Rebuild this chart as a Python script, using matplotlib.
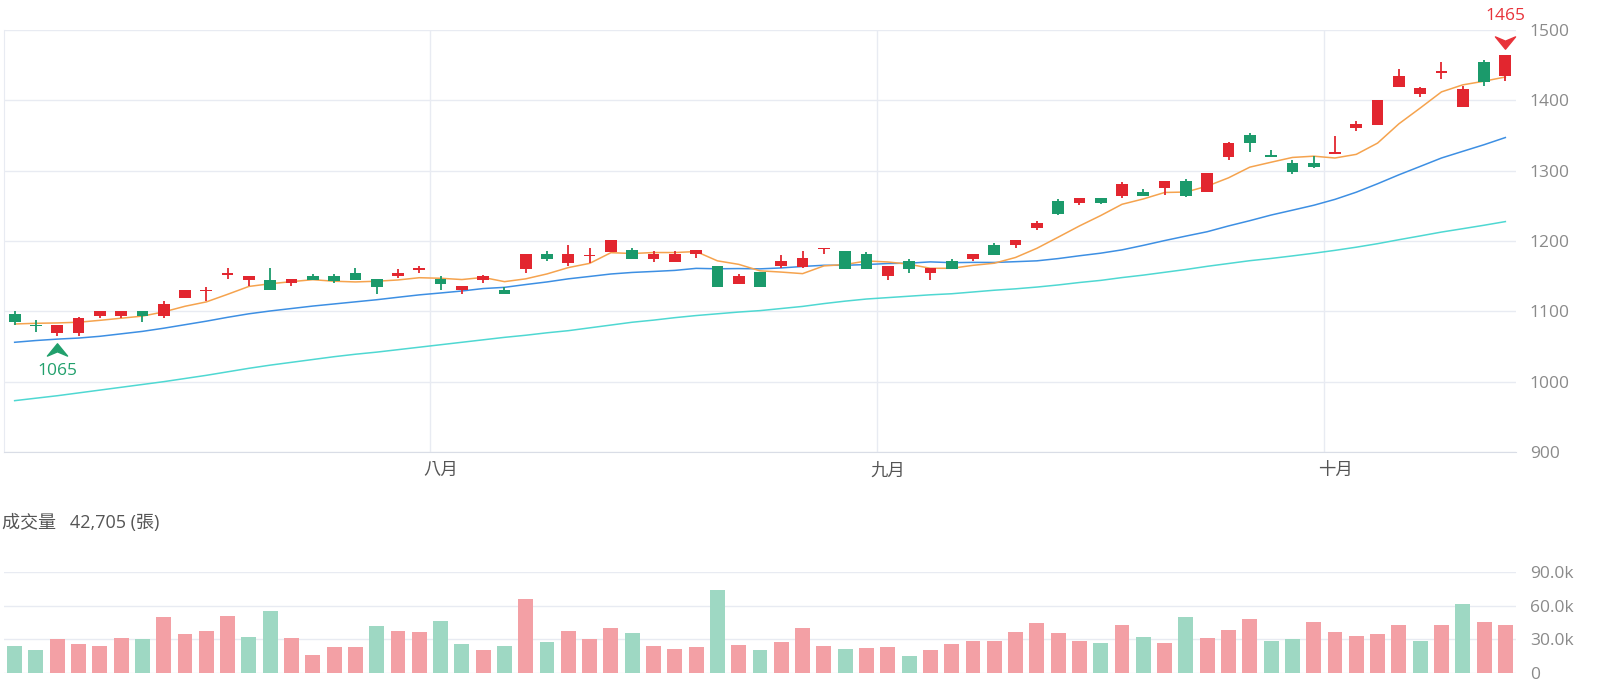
import matplotlib
matplotlib.use("Agg")
import matplotlib.pyplot as plt
from matplotlib.path import Path
from matplotlib.transforms import offset_copy

# ---- data (daily candles, 71 sessions) ----
opens = [1096, 1081, 1069, 1069, 1094, 1094, 1100, 1094, 1119, 1129,
         1152, 1145, 1145, 1140, 1150, 1150, 1155, 1146, 1150, 1159,
         1146, 1130, 1145, 1131, 1160, 1181, 1169, 1178, 1185, 1187,
         1174, 1170, 1181, 1165, 1139, 1156, 1164, 1163, 1188, 1186,
         1181, 1150, 1172, 1155, 1172, 1174, 1195, 1194, 1219, 1257,
         1254, 1261, 1264, 1270, 1275, 1285, 1270, 1320, 1351, 1322,
         1311, 1311, 1324, 1360, 1365, 1419, 1409, 1439, 1390, 1455, 1434]
highs = [1100, 1087, 1081, 1092, 1100, 1100, 1100, 1115, 1131, 1134,
         1161, 1150, 1161, 1146, 1153, 1153, 1161, 1146, 1160, 1165,
         1150, 1136, 1151, 1135, 1181, 1186, 1195, 1190, 1201, 1190,
         1186, 1186, 1187, 1165, 1153, 1156, 1180, 1186, 1190, 1186,
         1185, 1165, 1175, 1161, 1175, 1182, 1197, 1201, 1229, 1260,
         1261, 1261, 1284, 1274, 1285, 1288, 1297, 1341, 1354, 1329,
         1315, 1321, 1349, 1370, 1400, 1444, 1419, 1455, 1420, 1458, 1465]
lows = [1081, 1070, 1065, 1065, 1090, 1090, 1085, 1090, 1119, 1115,
        1146, 1136, 1130, 1136, 1145, 1140, 1145, 1125, 1147, 1155,
        1131, 1125, 1140, 1125, 1155, 1172, 1164, 1169, 1184, 1175,
        1170, 1170, 1176, 1135, 1139, 1135, 1161, 1162, 1182, 1160,
        1160, 1145, 1155, 1145, 1160, 1172, 1180, 1190, 1215, 1237,
        1251, 1252, 1261, 1264, 1266, 1263, 1270, 1315, 1326, 1320,
        1295, 1304, 1324, 1356, 1365, 1419, 1405, 1430, 1390, 1420, 1427]
closes = [1085, 1079, 1081, 1091, 1100, 1100, 1094, 1111, 1131, 1131,
          1154, 1150, 1130, 1146, 1145, 1143, 1145, 1135, 1155, 1161,
          1139, 1136, 1150, 1125, 1181, 1174, 1181, 1180, 1201, 1175,
          1181, 1181, 1187, 1135, 1150, 1135, 1172, 1176, 1190, 1160,
          1160, 1165, 1160, 1161, 1160, 1181, 1180, 1201, 1226, 1239,
          1261, 1254, 1281, 1264, 1285, 1264, 1296, 1340, 1340, 1320,
          1298, 1305, 1327, 1366, 1400, 1435, 1417, 1442, 1416, 1426, 1465]

ma5 = [1082, 1083, 1083.5, 1084.5, 1087.2, 1090.2, 1093.2, 1099.2, 1107.2, 1113.4,
       1124.2, 1135.4, 1139.2, 1142.2, 1145.0, 1142.8, 1141.8, 1142.8, 1144.6, 1147.8,
       1147.0, 1145.2, 1148.2, 1142.2, 1146.2, 1153.2, 1162.2, 1168.2, 1183.4, 1182.2,
       1183.6, 1183.6, 1185.0, 1171.8, 1166.8, 1157.6, 1155.8, 1153.6, 1164.6, 1166.6,
       1171.6, 1170.2, 1167.0, 1161.2, 1161.2, 1165.4, 1168.4, 1176.6, 1189.6, 1205.4,
       1221.4, 1236.2, 1252.2, 1259.8, 1269.0, 1269.6, 1278.0, 1289.8, 1305.0, 1312.0,
       1318.8, 1320.6, 1318.0, 1323.2, 1339.2, 1366.6, 1389.0, 1412.0, 1422.0, 1427.2, 1433.2]
ma20 = [1056, 1058.5, 1060.5, 1062, 1064.5, 1068, 1071.5, 1076, 1081, 1086,
        1091.5, 1096.5, 1100.5, 1104, 1107.5, 1110.5, 1113.5, 1116.5, 1120, 1123.4,
        1126.1, 1128.9, 1132.4, 1134.1, 1138.1, 1141.8, 1146.2, 1149.6, 1153.1, 1155.3,
        1156.7, 1158.2, 1161.1, 1160.5, 1160.8, 1160.4, 1161.7, 1163.8, 1165.5, 1165.5,
        1166.5, 1168.0, 1168.5, 1170.3, 1169.2, 1169.6, 1169.5, 1170.6, 1171.8, 1175.0,
        1179.0, 1182.7, 1187.4, 1193.8, 1200.6, 1207.0, 1213.2, 1221.4, 1228.9, 1236.9,
        1243.8, 1250.8, 1259.2, 1269.4, 1281.4, 1294.1, 1306.0, 1318.0, 1327.5, 1336.9, 1347.1]
ma60 = [973, 976.5, 980, 984, 988, 992, 996, 1000, 1004.5, 1009,
        1014, 1019, 1023.5, 1027.5, 1031.5, 1035.5, 1039, 1042, 1045.5, 1049,
        1052.5, 1056, 1059.5, 1063, 1066, 1069.5, 1072.5, 1076.5, 1080.5, 1084.5,
        1087.5, 1091, 1094, 1096.5, 1099, 1101, 1104, 1107, 1111, 1114.5,
        1117.5, 1119.5, 1121.5, 1123.5, 1125, 1127.5, 1130, 1132, 1134.5, 1137.5,
        1141, 1144, 1148, 1151.5, 1155.5, 1159.5, 1164, 1168, 1172, 1175.2,
        1178.8, 1182.6, 1186.7, 1191.2, 1196.2, 1201.8, 1207.2, 1212.7, 1217.5, 1222.4, 1227.6]

# volume in thousands of lots (張); 1 = up day (pink), 0 = down day (green)
volumes_k = [23.9, 20.4, 30.4, 26.3, 24.5, 31.0, 30.4, 49.9, 35.1, 37.5,
             51.0, 32.4, 55.5, 31.6, 16.2, 23.3, 23.3, 41.9, 37.8, 36.6,
             46.0, 25.7, 20.9, 24.5, 65.8, 27.7, 37.8, 30.7, 40.4, 36.0,
             23.9, 21.8, 23.0, 74.0, 25.4, 20.6, 28.0, 40.1, 24.2, 21.2,
             22.1, 23.3, 15.0, 20.6, 25.7, 28.6, 28.9, 36.6, 44.2, 35.4,
             28.6, 26.5, 42.8, 32.4, 27.1, 49.6, 31.0, 38.0, 48.4, 28.3,
             30.1, 45.7, 36.9, 33.0, 35.1, 43.1, 28.3, 43.1, 61.1, 45.4, 42.705]
vol_up = [0, 0, 1, 1, 1, 1, 0, 1, 1, 1,
          1, 0, 0, 1, 1, 1, 1, 0, 1, 1,
          0, 0, 1, 0, 1, 0, 1, 1, 1, 0,
          1, 1, 1, 0, 1, 0, 1, 1, 1, 0,
          1, 1, 0, 1, 1, 1, 1, 1, 1, 1,
          1, 0, 1, 0, 1, 0, 1, 1, 1, 0,
          0, 1, 1, 1, 1, 1, 0, 1, 0, 1, 1]

month_labels = ["八月", "九月", "十月"]
month_first_idx = [20, 41, 62]      # first session of each month
price_ticks = [900, 1000, 1100, 1200, 1300, 1400, 1500]
vol_ticks = [0, 30, 60, 90]
vol_tick_labels = ["0", "30.0k", "60.0k", "90.0k"]
low_idx, low_val = 2, 1065
high_idx, high_val = 70, 1465
last_volume = "42,705"

# ---- style ----
RED = "#e2262f"
GREEN = "#1b9a6b"
VOL_RED = "#f3a0a5"
VOL_GREEN = "#9ed8c3"
GRID = "#e8ebf2"
TICK = "#8a8a8a"
FS = 12.5

plt.rcParams["font.family"] = ["Open Sans", "Noto Sans CJK TC", "DejaVu Sans"]

fig = plt.figure(figsize=(16, 7), dpi=100)
W, H = 1600, 700
n = len(closes)
xs = list(range(n))

# price panel
ax = fig.add_axes([4 / W, 1 - 452 / H, 1512 / W, 422 / H])
ax.set_xlim(-0.5, n - 0.5)
ax.set_ylim(900, 1500)

for y in price_ticks:
    ax.axhline(y, color=GRID, lw=1, zorder=0)
for m in month_first_idx:
    ax.axvline(m - 0.5, color=GRID, lw=1, zorder=0)

for i in xs:
    o, h, l, c = opens[i], highs[i], lows[i], closes[i]
    col = RED if c >= o else GREEN
    ax.vlines(i, l, h, color=col, lw=1.3, zorder=3)
    body = max(abs(c - o), 2)
    ax.bar(i, body, bottom=min(o, c), width=0.55, color=col, lw=0, zorder=3)

ax.plot(xs, ma60, color="#4fd8d2", lw=1.1, zorder=2)
ax.plot(xs, ma20, color="#3d8fe3", lw=1.1, zorder=2)
ax.plot(xs, ma5, color="#f5a34e", lw=1.1, zorder=2)

# min / max markers (chevron arrows)
chev_up = Path([(0, 0.6), (0.9, -0.5), (0, -0.12), (-0.9, -0.5), (0, 0.6)],
               [Path.MOVETO, Path.LINETO, Path.LINETO, Path.LINETO, Path.CLOSEPOLY])
chev_dn = Path([(0, -0.6), (0.9, 0.5), (0, 0.12), (-0.9, 0.5), (0, -0.6)],
               [Path.MOVETO, Path.LINETO, Path.LINETO, Path.LINETO, Path.CLOSEPOLY])
ax.plot(low_idx, low_val, marker=chev_up, ms=14.5, color="#21a06c", ls="none",
        transform=offset_copy(ax.transData, fig=fig, y=-14, units="dots"), zorder=4)
ax.annotate(str(low_val), (low_idx, low_val), xytext=(0, -35), textcoords="offset pixels",
            ha="center", va="center", fontsize=FS, color="#21a06c")
ax.plot(high_idx, high_val, marker=chev_dn, ms=14.5, color="#e8333a", ls="none",
        transform=offset_copy(ax.transData, fig=fig, y=12.5, units="dots"), zorder=4)
ax.annotate(str(high_val), (high_idx, high_val), xytext=(0, 39), textcoords="offset pixels",
            ha="center", va="center", fontsize=FS, color="#e8333a", annotation_clip=False)

for s in ["top", "right"]:
    ax.spines[s].set_visible(False)
ax.spines["left"].set_color(GRID)
ax.spines["bottom"].set_color("#d9dde6")
ax.yaxis.tick_right()
ax.set_yticks(price_ticks)
ax.tick_params(axis="y", length=0, pad=10, labelsize=FS, labelcolor=TICK)
ax.set_xticks(month_first_idx, month_labels)
ax.tick_params(axis="x", length=0, pad=8, labelsize=FS, labelcolor="#555555")

# volume panel
axv = fig.add_axes([4 / W, 1 - 673.3 / H, 1512 / W, 101.6 / H])
axv.set_xlim(-0.5, n - 0.5)
axv.set_ylim(0, 90)
for y in vol_ticks:
    axv.axhline(y, color=GRID, lw=1, zorder=0)
axv.bar(xs, volumes_k, width=0.7, lw=0, zorder=2,
        color=[VOL_RED if u else VOL_GREEN for u in vol_up])
for s in axv.spines.values():
    s.set_visible(False)
axv.yaxis.tick_right()
axv.set_yticks(vol_ticks, vol_tick_labels)
axv.tick_params(axis="y", length=0, pad=10, labelsize=FS, labelcolor=TICK)
axv.set_xticks([])

fig.text(2 / W, 1 - 523 / H, "成交量   " + last_volume + " (張)", fontsize=13,
         color="#555555", va="center", ha="left")

fig.savefig("out.png", dpi=100, facecolor="white")
